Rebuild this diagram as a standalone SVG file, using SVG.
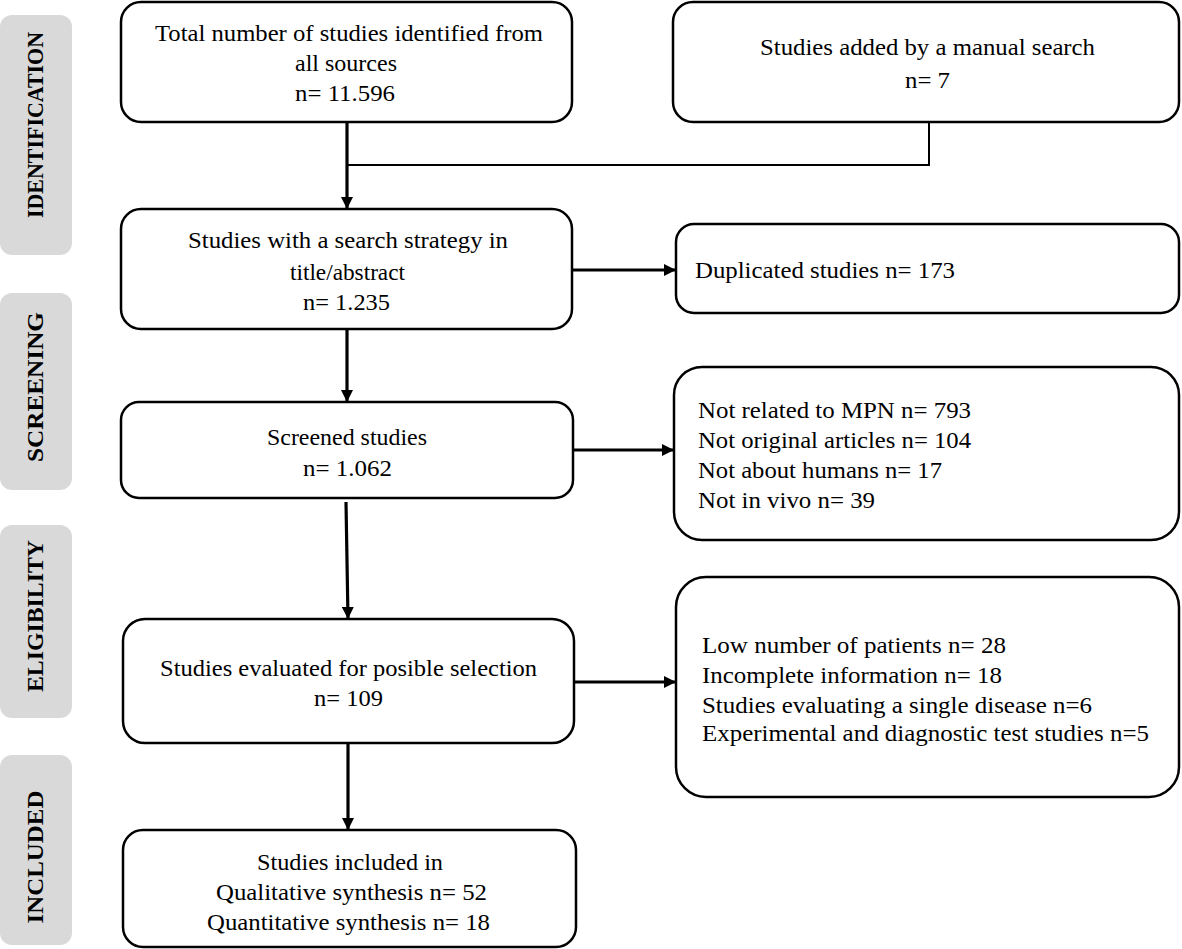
<svg xmlns="http://www.w3.org/2000/svg" width="1182" height="949" viewBox="0 0 1182 949">
<defs>
<marker id="ah" viewBox="0 0 12 12" refX="12" refY="6" markerWidth="12" markerHeight="12" markerUnits="userSpaceOnUse" orient="auto">
<path d="M0,0 L12,6 L0,12 Z" fill="#000"/>
</marker>
</defs>
<style>
.box{fill:#fff;stroke:#000;stroke-width:2.5}
.side{fill:#d9d9d9}
.lab{font-family:"Liberation Serif","Times New Roman",serif;font-weight:bold;font-size:23px;fill:#000}
.t{font-family:"Liberation Serif","Times New Roman",serif;font-size:24px;fill:#000}
.arr{stroke:#000;stroke-width:3.2;fill:none}
.thin{stroke:#000;stroke-width:2;fill:none}
</style>
<rect width="1182" height="949" fill="#fff"/>

<g id="stage-identification">
<rect class="side" x="0" y="15" width="72" height="240" rx="12"/>
<text class="lab" transform="translate(43,125) rotate(-90)" text-anchor="middle" textLength="186" lengthAdjust="spacingAndGlyphs">IDENTIFICATION</text>
</g>
<g id="stage-screening">
<rect class="side" x="0" y="293" width="72" height="197" rx="12"/>
<text class="lab" transform="translate(43,387) rotate(-90)" text-anchor="middle" textLength="150" lengthAdjust="spacingAndGlyphs">SCREENING</text>
</g>
<g id="stage-eligibility">
<rect class="side" x="0" y="525" width="72" height="193" rx="12"/>
<text class="lab" transform="translate(43,616) rotate(-90)" text-anchor="middle" textLength="152" lengthAdjust="spacingAndGlyphs">ELIGIBILITY</text>
</g>
<g id="stage-included">
<rect class="side" x="0" y="755" width="72" height="190" rx="12"/>
<text class="lab" transform="translate(43,857) rotate(-90)" text-anchor="middle" textLength="133" lengthAdjust="spacingAndGlyphs">INCLUDED</text>
</g>

<g id="connectors">
<line class="arr" x1="347" y1="122" x2="347" y2="209" marker-end="url(#ah)"/>
<polyline class="thin" points="929,122 929,165 347,165"/>
<line class="arr" x1="572" y1="270" x2="676" y2="270" marker-end="url(#ah)"/>
<line class="arr" x1="347" y1="329" x2="347" y2="402" marker-end="url(#ah)"/>
<line class="arr" x1="572" y1="450" x2="674" y2="450" marker-end="url(#ah)"/>
<line class="arr" x1="346" y1="502" x2="348" y2="619" marker-end="url(#ah)"/>
<line class="arr" x1="574" y1="682" x2="676" y2="682" marker-end="url(#ah)"/>
<line class="arr" x1="348" y1="743" x2="348" y2="830" marker-end="url(#ah)"/>
</g>

<g id="node-total">
<rect class="box" x="121" y="2" width="451" height="120" rx="20"/>
<text class="t" x="155" y="41" textLength="388" lengthAdjust="spacingAndGlyphs">Total number of studies identified from</text>
<text class="t" x="295" y="71" textLength="102" lengthAdjust="spacingAndGlyphs">all sources</text>
<text class="t" x="295" y="101" textLength="100" lengthAdjust="spacingAndGlyphs">n= 11.596</text>
</g>

<g id="node-manual">
<rect class="box" x="673" y="2" width="506" height="120" rx="20"/>
<text class="t" x="760" y="55" textLength="335" lengthAdjust="spacingAndGlyphs">Studies added by a manual search</text>
<text class="t" x="905" y="88" textLength="45" lengthAdjust="spacingAndGlyphs">n= 7</text>
</g>

<g id="node-search">
<rect class="box" x="121" y="209" width="451" height="120" rx="20"/>
<text class="t" x="188" y="248" textLength="320" lengthAdjust="spacingAndGlyphs">Studies with a search strategy in</text>
<text class="t" x="290" y="280" textLength="115" lengthAdjust="spacingAndGlyphs">title/abstract</text>
<text class="t" x="303" y="310" textLength="87" lengthAdjust="spacingAndGlyphs">n= 1.235</text>
</g>

<g id="node-duplicated">
<rect class="box" x="676" y="224" width="503" height="89" rx="18"/>
<text class="t" x="695" y="278" textLength="260" lengthAdjust="spacingAndGlyphs">Duplicated studies n= 173</text>
</g>

<g id="node-screened">
<rect class="box" x="121" y="402" width="452" height="96" rx="18"/>
<text class="t" x="267" y="445" textLength="160" lengthAdjust="spacingAndGlyphs">Screened studies</text>
<text class="t" x="303" y="476" textLength="89" lengthAdjust="spacingAndGlyphs">n= 1.062</text>
</g>

<g id="node-excluded-screening">
<rect class="box" x="674" y="367" width="505" height="173" rx="28"/>
<text class="t" x="698" y="418" textLength="273" lengthAdjust="spacingAndGlyphs">Not related to MPN n= 793</text>
<text class="t" x="698" y="448" textLength="273" lengthAdjust="spacingAndGlyphs">Not original articles n= 104</text>
<text class="t" x="698" y="478" textLength="244" lengthAdjust="spacingAndGlyphs">Not about humans n= 17</text>
<text class="t" x="698" y="508" textLength="177" lengthAdjust="spacingAndGlyphs">Not in vivo n= 39</text>
</g>

<g id="node-evaluated">
<rect class="box" x="123" y="619" width="451" height="124" rx="22"/>
<text class="t" x="160" y="676" textLength="377" lengthAdjust="spacingAndGlyphs">Studies evaluated for posible selection</text>
<text class="t" x="314" y="706" textLength="69" lengthAdjust="spacingAndGlyphs">n= 109</text>
</g>

<g id="node-excluded-eligibility">
<rect class="box" x="676" y="577" width="503" height="220" rx="30"/>
<text class="t" x="702" y="653" textLength="304" lengthAdjust="spacingAndGlyphs">Low number of patients n= 28</text>
<text class="t" x="702" y="683" textLength="300" lengthAdjust="spacingAndGlyphs">Incomplete information n= 18</text>
<text class="t" x="702" y="713" textLength="390" lengthAdjust="spacingAndGlyphs">Studies evaluating a single disease n=6</text>
<text class="t" x="702" y="741" textLength="447" lengthAdjust="spacingAndGlyphs">Experimental and diagnostic test studies n=5</text>
</g>

<g id="node-included">
<rect class="box" x="123" y="830" width="453" height="117" rx="20"/>
<text class="t" x="257" y="870" textLength="186" lengthAdjust="spacingAndGlyphs">Studies included in</text>
<text class="t" x="216" y="900" textLength="271" lengthAdjust="spacingAndGlyphs">Qualitative synthesis n= 52</text>
<text class="t" x="207" y="930" textLength="283" lengthAdjust="spacingAndGlyphs">Quantitative synthesis n= 18</text>
</g>
</svg>
